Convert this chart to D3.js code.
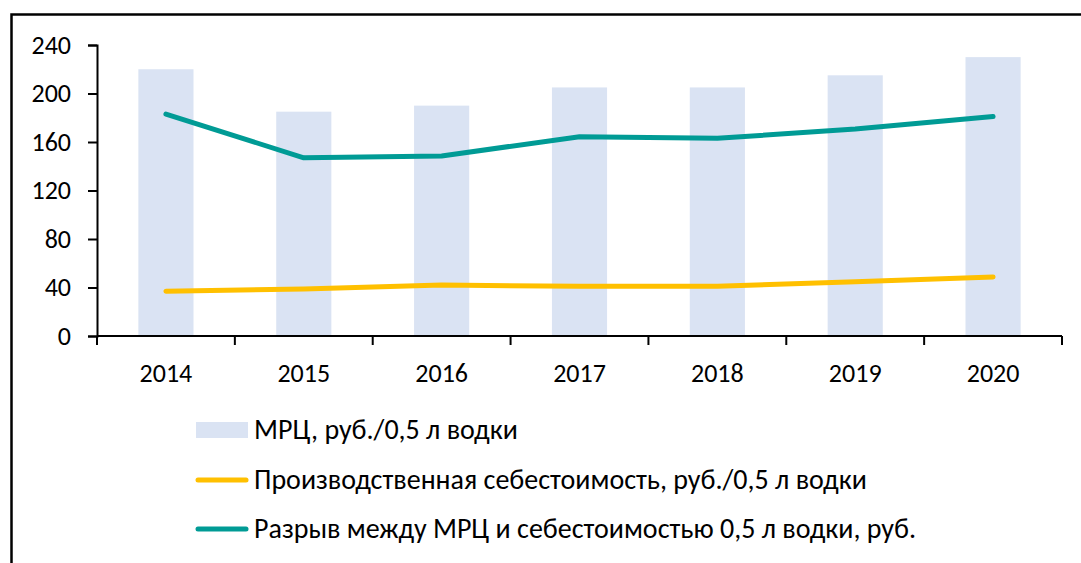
<!DOCTYPE html>
<meta charset="utf-8">
<script src="https://d3js.org/d3.v7.min.js"></script>
<style>
  body { margin: 0; background: #fff; }
  text { font-family: Carlito, Lato, sans-serif; fill: #000; }
</style>
<div id="my_dataviz"></div>
<script>

// data
var years = ["2014", "2015", "2016", "2017", "2018", "2019", "2020"];
var mrc = [220, 185, 190, 205, 205, 215, 230];
var cost = [37, 38.8, 42, 41, 41, 44.8, 48.7];
var gap = [183, 147, 148.5, 164.4, 163, 170.7, 181];
var yTicks = [0, 40, 80, 120, 160, 200, 240];
var legendLabels = [
  "МРЦ, руб./0,5 л водки",
  "Производственная себестоимость, руб./0,5 л водки",
  "Разрыв между МРЦ и себестоимостью 0,5 л водки, руб."
];

var width = 1081, height = 563;

var svg = d3.select("#my_dataviz")
  .append("svg")
    .attr("width", width)
    .attr("height", height);

// frame (top + left only visible)
svg.append("path")
  .attr("d", "M11.5,563 V14.5 H1081")
  .attr("fill", "none")
  .attr("stroke", "#000")
  .attr("stroke-width", 2.5);

var x = d3.scaleBand()
  .domain(years)
  .range([97, 1062])
  .paddingInner(0.6)
  .paddingOuter(0.3);

var y = d3.scaleLinear()
  .domain([0, 240])
  .range([336, 45]);

// bars
svg.selectAll(".bar")
  .data(years)
  .enter()
  .append("rect")
    .attr("class", "bar")
    .attr("x", function(d){ return x(d); })
    .attr("width", x.bandwidth())
    .attr("y", function(d, i){ return y(mrc[i]); })
    .attr("height", function(d, i){ return y(0) - y(mrc[i]); })
    .style("fill", "#DAE3F3");

// y axis
var yAxis = svg.append("g")
  .attr("transform", "translate(97,0)")
  .call(d3.axisLeft(y).tickValues(yTicks).tickSize(9).tickPadding(17));
yAxis.selectAll("text").style("font-size", "26px");

// x axis: ticks at category boundaries
var xAxisG = svg.append("g").attr("transform", "translate(0,336)");
xAxisG.append("line")
  .attr("x1", 97).attr("x2", 1062)
  .attr("stroke", "#000").attr("stroke-width", 2);
var step = x.step();
var bounds = d3.range(years.length + 1).map(function(i){ return 97 + i * step; });
xAxisG.selectAll(".xt")
  .data(bounds)
  .enter()
  .append("line")
    .attr("x1", function(d){ return d; })
    .attr("x2", function(d){ return d; })
    .attr("y1", 0).attr("y2", 9)
    .attr("stroke", "#000").attr("stroke-width", 2);
xAxisG.selectAll(".xl")
  .data(years)
  .enter()
  .append("text")
    .attr("x", function(d){ return x(d) + x.bandwidth() / 2; })
    .attr("y", 46)
    .attr("text-anchor", "middle")
    .style("font-size", "26px")
    .text(function(d){ return d; });

yAxis.select(".domain").attr("stroke-width", 2);
yAxis.selectAll(".tick line").attr("stroke-width", 2);

// lines
var line = d3.line()
  .x(function(d, i){ return x(years[i]) + x.bandwidth() / 2; })
  .y(function(d){ return y(d); });

svg.append("path")
  .datum(cost)
  .attr("d", line)
  .attr("fill", "none")
  .attr("stroke", "#FFC000")
  .attr("stroke-width", 5)
  .attr("stroke-linecap", "round")
  .attr("stroke-linejoin", "round");

svg.append("path")
  .datum(gap)
  .attr("d", line)
  .attr("fill", "none")
  .attr("stroke", "#009B95")
  .attr("stroke-width", 5)
  .attr("stroke-linecap", "round")
  .attr("stroke-linejoin", "round");

// legend
var legendY = [430, 480, 529];
var legend = svg.selectAll(".legend-item")
  .data(legendLabels)
  .enter()
  .append("g")
    .attr("class", "legend-item")
    .attr("transform", function(d, i){ return "translate(0," + legendY[i] + ")"; });

legend.each(function(d, i){
  var g = d3.select(this);
  if (i === 0) {
    g.append("rect")
      .attr("x", 196).attr("y", -8)
      .attr("width", 52).attr("height", 16)
      .style("fill", "#DAE3F3");
  } else {
    g.append("line")
      .attr("x1", 198).attr("x2", 246)
      .attr("y1", 0).attr("y2", 0)
      .attr("stroke", i === 1 ? "#FFC000" : "#009B95")
      .attr("stroke-width", 5)
      .attr("stroke-linecap", "round");
  }
});

legend.append("text")
  .attr("x", 254)
  .attr("y", 8.5)
  .style("font-size", "28px")
  .text(function(d){ return d; });

</script>
